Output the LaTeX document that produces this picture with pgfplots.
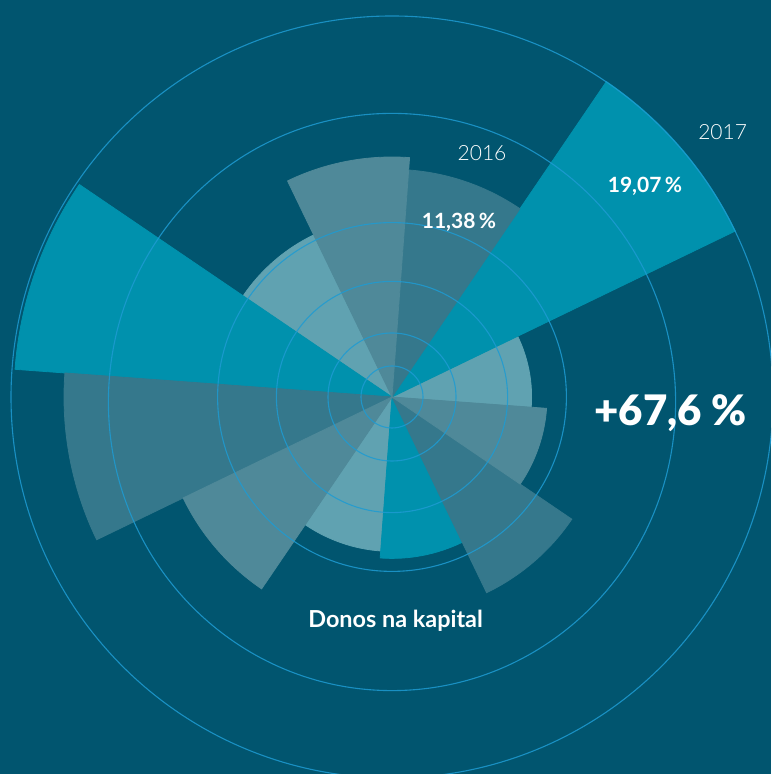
\documentclass[border=0pt]{standalone}
\usepackage{pgfplots}
\pgfplotsset{compat=1.18}
\usepackage{pgfplotstable}
\usepackage{fontspec}
\setmainfont{Lato}
\newfontfamily\lightfont{Lato Light}
\newfontfamily\blackfont{Lato Black}

\definecolor{bgcol}{HTML}{01556F}
\definecolor{cBright}{HTML}{0091AD}
\definecolor{cDark}{HTML}{35788C}
\definecolor{cGray}{HTML}{4F8999}
\definecolor{cLight}{HTML}{60A2B1}
\definecolor{gridcol}{HTML}{1E9BD2}

\pgfdeclareplotmark{nothing}{}

% sector start angle (deg), value (%); each sector spans 30 deg
\pgfplotstableread{
x y a r
0 0 -4.2 6.98
0 0 115.8 9.00
0 0 235.8 7.72
}\lightdata
\pgfplotstableread{
x y a r
0 0 25.8 19.07
0 0 145.8 18.90
0 0 265.8 8.07
}\brightdata
\pgfplotstableread{
x y a r
0 0 55.8 11.38
0 0 175.8 16.40
0 0 295.8 10.87
}\darkdata
\pgfplotstableread{
x y a r
0 0 85.8 12.00
0 0 205.8 11.60
0 0 325.8 7.75
}\graydata
% grid rings
\pgfplotstableread{
x y rx ry
0 0 1.55 1.55
0 0 3.20 3.20
0 0 5.78 5.78
0 0 8.72 8.72
0 -0.25 14.18 14.43
0 0 19.05 19.05
}\ringdata

\pgfplotsset{
  wedge/.style={scatter, only marks, mark=nothing, point meta=\thisrow{r},
    visualization depends on={\thisrow{a}\as\wa},
    visualization depends on={\thisrow{r}\as\wr},
    scatter/@pre marker code/.code={%
      \fill[#1] (0pt,0pt) -- (\wa:\wr*10pt) arc[start angle=\wa, delta angle=30, radius=\wr*10pt] -- cycle;},
    scatter/@post marker code/.code={}},
  ring/.style={scatter, only marks, mark=nothing, point meta=\thisrow{rx},
    visualization depends on={\thisrow{rx}\as\rx},
    visualization depends on={\thisrow{ry}\as\ry},
    scatter/@pre marker code/.code={%
      \draw[gridcol, line width=0.55pt, opacity=0.85] (0pt,0pt) ellipse[x radius=\rx*10pt, y radius=\ry*10pt];},
    scatter/@post marker code/.code={}},
}

\begin{document}
\begin{tikzpicture}
\begin{axis}[
  x=10pt, y=10pt,
  xmin=-19.6, xmax=18.95, ymin=-18.85, ymax=19.85,
  axis background/.style={fill=bgcol},
  axis line style={draw=none},
  xtick=\empty, ytick=\empty,
  clip=true, clip marker paths=true,
]
\addplot[wedge=cLight] table[x=x,y=y] {\lightdata};
\addplot[wedge=cBright] table[x=x,y=y] {\brightdata};
\addplot[wedge=cDark] table[x=x,y=y] {\darkdata};
\addplot[wedge=cGray] table[x=x,y=y] {\graydata};
\addplot[ring] table[x=x,y=y] {\ringdata};

\node[anchor=base, text=white, font=\lightfont\fontsize{10.5}{12}\selectfont] at (axis cs:4.5,11.8) {2016};
\node[anchor=base, text=white, font=\lightfont\fontsize{10.5}{12}\selectfont] at (axis cs:16.53,12.85) {2017};
\node[anchor=base, text=white, font=\bfseries\fontsize{10.5}{12}\selectfont] at (axis cs:3.35,8.4) {11,38\,\%};
\node[anchor=base, text=white, font=\bfseries\fontsize{10.5}{12}\selectfont] at (axis cs:12.65,10.2) {19,07\,\%};
\node[anchor=base, text=white, font=\blackfont\fontsize{21}{25}\selectfont] at (axis cs:13.93,-1.45) {+67,6 \%};
\node[anchor=base, text=white, font=\bfseries\fontsize{11.7}{14}\selectfont] at (axis cs:0.18,-11.55) {Donos na kapital};
\end{axis}
\end{tikzpicture}
\end{document}
